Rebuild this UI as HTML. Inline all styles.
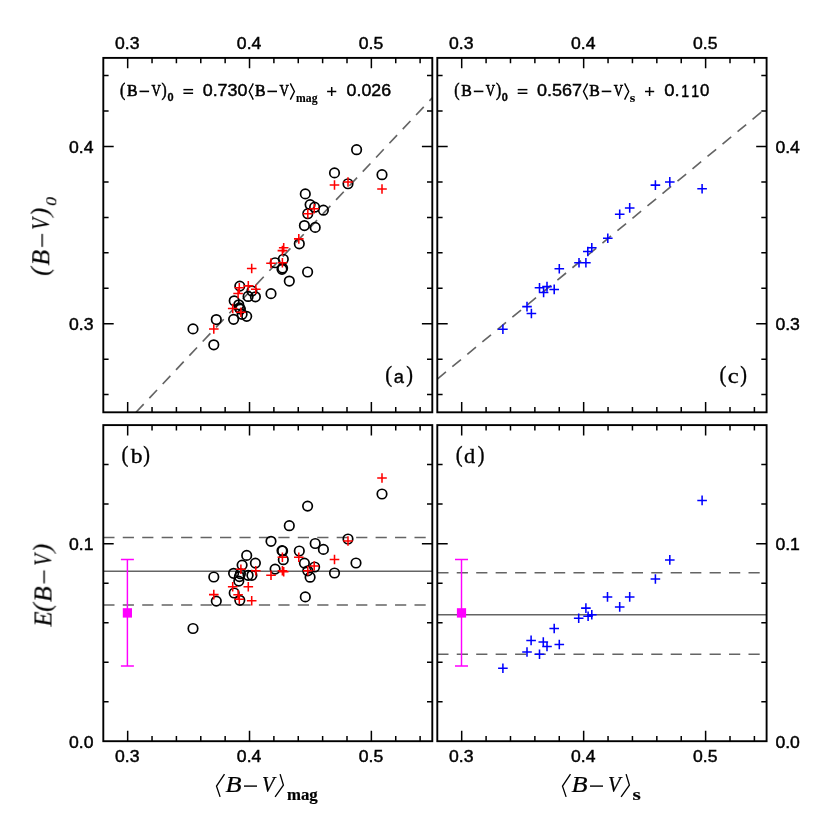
<!DOCTYPE html>
<html><head><meta charset="utf-8"><title>B-V relations</title>
<style>html,body{margin:0;padding:0;background:#fff}body{width:830px;height:830px;overflow:hidden}svg{display:block}text{fill:#000}.s{font-family:"Liberation Sans",sans-serif}.r{font-family:"Liberation Serif",serif}.i{font-family:"Liberation Serif",serif;font-style:italic}.b{font-family:"Liberation Serif",serif;font-weight:bold}.c circle{fill:none;stroke:#000;stroke-width:1.7}</style></head><body>
<svg width="830" height="830" viewBox="0 0 830 830">
<rect width="830" height="830" fill="#fff"/>
<clipPath id="c0"><rect x="103.3" y="57.9" width="329" height="354.4"/></clipPath>
<clipPath id="c1"><rect x="437.3" y="57.9" width="329.3" height="354.4"/></clipPath>
<clipPath id="c2"><rect x="103.3" y="425.1" width="329" height="316.1"/></clipPath>
<clipPath id="c3"><rect x="437.3" y="425.1" width="329.3" height="316.1"/></clipPath>
<line x1="136.02" y1="412.3" x2="432.3" y2="97.77" stroke="#646464" stroke-width="1.65" stroke-dasharray="11.2 8.25"/>
<g class="c">
<circle cx="213.8" cy="344.82" r="4.75"/>
<circle cx="216.3" cy="319.57" r="4.75"/>
<circle cx="233.6" cy="319.35" r="4.75"/>
<circle cx="234.2" cy="300.81" r="4.75"/>
<circle cx="239.8" cy="286.12" r="4.75"/>
<circle cx="238.8" cy="304.79" r="4.75"/>
<circle cx="239.4" cy="307.95" r="4.75"/>
<circle cx="240.4" cy="309.1" r="4.75"/>
<circle cx="242.1" cy="314.34" r="4.75"/>
<circle cx="246.7" cy="316.35" r="4.75"/>
<circle cx="248.1" cy="296.47" r="4.75"/>
<circle cx="251.9" cy="290.94" r="4.75"/>
<circle cx="255.4" cy="296.8" r="4.75"/>
<circle cx="271" cy="293.66" r="4.75"/>
<circle cx="275.1" cy="262.77" r="4.75"/>
<circle cx="282.6" cy="268.09" r="4.75"/>
<circle cx="282" cy="269.33" r="4.75"/>
<circle cx="283.3" cy="259.27" r="4.75"/>
<circle cx="289.3" cy="281.04" r="4.75"/>
<circle cx="299.3" cy="243.81" r="4.75"/>
<circle cx="304.4" cy="225.54" r="4.75"/>
<circle cx="307.6" cy="272.01" r="4.75"/>
<circle cx="307.8" cy="213.69" r="4.75"/>
<circle cx="310.1" cy="204.6" r="4.75"/>
<circle cx="305.3" cy="193.91" r="4.75"/>
<circle cx="314.6" cy="207.21" r="4.75"/>
<circle cx="315.2" cy="227.41" r="4.75"/>
<circle cx="323.4" cy="210.2" r="4.75"/>
<circle cx="334.5" cy="172.89" r="4.75"/>
<circle cx="348" cy="183.75" r="4.75"/>
<circle cx="356.6" cy="149.69" r="4.75"/>
<circle cx="382" cy="174.67" r="4.75"/>
<circle cx="193" cy="328.88" r="4.75"/>
</g>
<path d="M209 329.04h9.6M213.8 324.24v9.6M227.9 308.55h9.6M232.7 303.75v9.6M233.3 293.52h9.6M238.1 288.72v9.6M234.5 287.83h9.6M239.3 283.03v9.6M236.1 312.32h9.6M240.9 307.52v9.6M243.5 285.86h9.6M248.3 281.06v9.6M246.9 268.45h9.6M251.7 263.65v9.6M251 289.31h9.6M255.8 284.51v9.6M266.2 263.17h9.6M271 258.37v9.6M277.6 262.73h9.6M282.4 257.93v9.6M277.6 250.63h9.6M282.4 245.83v9.6M278.9 247.84h9.6M283.7 243.04v9.6M294 238.88h9.6M298.8 234.08v9.6M303 213.69h9.6M307.8 208.89v9.6M309.4 208.69h9.6M314.2 203.89v9.6M329.7 185h9.6M334.5 180.2v9.6M343.2 181.96h9.6M348 177.16v9.6M377.2 189.02h9.6M382 184.22v9.6" stroke="#ff0000" stroke-width="1.55" fill="none"/>
<line x1="437.3" y1="379.06" x2="766.6" y2="107.78" stroke="#646464" stroke-width="1.65" stroke-dasharray="11.2 8.25"/>
<path d="M498.1 329.2h9.6M502.9 324.4v9.6M522.2 306.6h9.6M527 301.8v9.6M526.6 313.5h9.6M531.4 308.7v9.6M534.7 287.8h9.6M539.5 283v9.6M538.8 292.5h9.6M543.6 287.7v9.6M542.2 286.6h9.6M547 281.8v9.6M549.4 289.4h9.6M554.2 284.6v9.6M554.5 268.7h9.6M559.3 263.9v9.6M574.2 262.7h9.6M579 257.9v9.6M581.1 262.7h9.6M585.9 257.9v9.6M583 251.5h9.6M587.8 246.7v9.6M587 247.7h9.6M591.8 242.9v9.6M603 238.3h9.6M607.8 233.5v9.6M614.9 214.2h9.6M619.7 209.4v9.6M624.9 207.9h9.6M629.7 203.1v9.6M650.6 185.1h9.6M655.4 180.3v9.6M665 181.9h9.6M669.8 177.1v9.6M697.3 188.8h9.6M702.1 184v9.6" stroke="#0000ff" stroke-width="1.55" fill="none"/>
<line x1="103.3" y1="537.5" x2="432.3" y2="537.5" stroke="#646464" stroke-width="1.65" stroke-dasharray="11.2 8.25"/>
<line x1="103.3" y1="571.2" x2="432.3" y2="571.2" stroke="#646464" stroke-width="1.4"/>
<line x1="103.3" y1="605" x2="432.3" y2="605" stroke="#646464" stroke-width="1.65" stroke-dasharray="11.2 8.25"/>
<g class="c">
<circle cx="213.8" cy="577" r="4.75"/>
<circle cx="216.3" cy="601.1" r="4.75"/>
<circle cx="233.6" cy="573.3" r="4.75"/>
<circle cx="234.2" cy="593" r="4.75"/>
<circle cx="239.8" cy="600.3" r="4.75"/>
<circle cx="238.8" cy="581.1" r="4.75"/>
<circle cx="239.4" cy="576.6" r="4.75"/>
<circle cx="240.4" cy="573.7" r="4.75"/>
<circle cx="242.1" cy="565.1" r="4.75"/>
<circle cx="246.7" cy="555.4" r="4.75"/>
<circle cx="248.1" cy="575.3" r="4.75"/>
<circle cx="251.9" cy="575.3" r="4.75"/>
<circle cx="255.4" cy="563.1" r="4.75"/>
<circle cx="271" cy="541.3" r="4.75"/>
<circle cx="275.1" cy="569.1" r="4.75"/>
<circle cx="282.6" cy="551" r="4.75"/>
<circle cx="282" cy="550.6" r="4.75"/>
<circle cx="283.3" cy="559.7" r="4.75"/>
<circle cx="289.3" cy="525.7" r="4.75"/>
<circle cx="299.3" cy="551" r="4.75"/>
<circle cx="304.4" cy="563.1" r="4.75"/>
<circle cx="307.6" cy="506.1" r="4.75"/>
<circle cx="307.8" cy="570.8" r="4.75"/>
<circle cx="310.1" cy="577.2" r="4.75"/>
<circle cx="305.3" cy="596.9" r="4.75"/>
<circle cx="314.6" cy="567" r="4.75"/>
<circle cx="315.2" cy="543.5" r="4.75"/>
<circle cx="323.4" cy="549.4" r="4.75"/>
<circle cx="334.5" cy="573" r="4.75"/>
<circle cx="348" cy="539" r="4.75"/>
<circle cx="356" cy="563" r="4.75"/>
<circle cx="382" cy="494" r="4.75"/>
<circle cx="193" cy="628.5" r="4.75"/>
</g>
<path d="M209 594.6h9.6M213.8 589.8v9.6M227.9 586.8h9.6M232.7 582v9.6M233.3 594.8h9.6M238.1 590v9.6M234.5 599.2h9.6M239.3 594.4v9.6M236.1 569.3h9.6M240.9 564.5v9.6M243.5 586.8h9.6M248.3 582v9.6M246.9 600.7h9.6M251.7 595.9v9.6M251 570.8h9.6M255.8 566v9.6M266.2 575.3h9.6M271 570.5v9.6M277.6 557.3h9.6M282.4 552.5v9.6M277.6 570.8h9.6M282.4 566v9.6M278.9 571.8h9.6M283.7 567v9.6M294 557.3h9.6M298.8 552.5v9.6M303 570.8h9.6M307.8 566v9.6M309.4 566h9.6M314.2 561.2v9.6M329.7 559.5h9.6M334.5 554.7v9.6M343.2 541h9.6M348 536.2v9.6M377.2 478h9.6M382 473.2v9.6" stroke="#ff0000" stroke-width="1.55" fill="none"/>
<path d="M127.4 559.5V666M120.9 559.5h13M120.9 666h13" stroke="#ff00ff" stroke-width="1.45" fill="none"/>
<rect x="122.8" y="608.2" width="9.2" height="9.4" fill="#ff00ff"/>
<line x1="437.3" y1="572.7" x2="766.6" y2="572.7" stroke="#646464" stroke-width="1.65" stroke-dasharray="11.2 8.25"/>
<line x1="437.3" y1="614.7" x2="766.6" y2="614.7" stroke="#646464" stroke-width="1.4"/>
<line x1="437.3" y1="654.2" x2="766.6" y2="654.2" stroke="#646464" stroke-width="1.65" stroke-dasharray="11.2 8.25"/>
<path d="M498.1 668.3h9.6M502.9 663.5v9.6M522.2 652h9.6M527 647.2v9.6M526.3 640.4h9.6M531.1 635.6v9.6M534.7 654.2h9.6M539.5 649.4v9.6M538.5 642h9.6M543.3 637.2v9.6M542.2 646.4h9.6M547 641.6v9.6M549.4 628.5h9.6M554.2 623.7v9.6M554.5 644.5h9.6M559.3 639.7v9.6M573.9 618.2h9.6M578.7 613.4v9.6M581.1 608.1h9.6M585.9 603.3v9.6M583.3 616.3h9.6M588.1 611.5v9.6M587 614.7h9.6M591.8 609.9v9.6M602.7 596.9h9.6M607.5 592.1v9.6M614.9 606.9h9.6M619.7 602.1v9.6M624.9 596.9h9.6M629.7 592.1v9.6M650.6 579h9.6M655.4 574.2v9.6M665 559.9h9.6M669.8 555.1v9.6M697.3 500.4h9.6M702.1 495.6v9.6" stroke="#0000ff" stroke-width="1.55" fill="none"/>
<path d="M461.5 559.5V666M455 559.5h13M455 666h13" stroke="#ff00ff" stroke-width="1.45" fill="none"/>
<rect x="456.9" y="608.2" width="9.2" height="9.4" fill="#ff00ff"/>
<rect x="103.3" y="57.9" width="329" height="354.4" fill="none" stroke="#000" stroke-width="1.9"/>
<path d="M127.67 57.9v10.4M127.67 412.3v-10.4M152.04 57.9v5.3M152.04 412.3v-5.3M176.41 57.9v5.3M176.41 412.3v-5.3M200.78 57.9v5.3M200.78 412.3v-5.3M225.15 57.9v5.3M225.15 412.3v-5.3M249.52 57.9v10.4M249.52 412.3v-10.4M273.89 57.9v5.3M273.89 412.3v-5.3M298.26 57.9v5.3M298.26 412.3v-5.3M322.63 57.9v5.3M322.63 412.3v-5.3M347 57.9v5.3M347 412.3v-5.3M371.37 57.9v10.4M371.37 412.3v-10.4M395.74 57.9v5.3M395.74 412.3v-5.3M420.11 57.9v5.3M420.11 412.3v-5.3" stroke="#000" stroke-width="1.5" fill="none"/>
<path d="M103.3 394.58h5.3M432.3 394.58h-5.3M103.3 359.14h5.3M432.3 359.14h-5.3M103.3 323.7h10.4M432.3 323.7h-10.4M103.3 288.26h5.3M432.3 288.26h-5.3M103.3 252.82h5.3M432.3 252.82h-5.3M103.3 217.38h5.3M432.3 217.38h-5.3M103.3 181.94h5.3M432.3 181.94h-5.3M103.3 146.5h10.4M432.3 146.5h-10.4M103.3 111.06h5.3M432.3 111.06h-5.3M103.3 75.62h5.3M432.3 75.62h-5.3" stroke="#000" stroke-width="1.5" fill="none"/>
<rect x="437.3" y="57.9" width="329.3" height="354.4" fill="none" stroke="#000" stroke-width="1.9"/>
<path d="M461.69 57.9v10.4M461.69 412.3v-10.4M486.09 57.9v5.3M486.09 412.3v-5.3M510.48 57.9v5.3M510.48 412.3v-5.3M534.87 57.9v5.3M534.87 412.3v-5.3M559.26 57.9v5.3M559.26 412.3v-5.3M583.66 57.9v10.4M583.66 412.3v-10.4M608.05 57.9v5.3M608.05 412.3v-5.3M632.44 57.9v5.3M632.44 412.3v-5.3M656.83 57.9v5.3M656.83 412.3v-5.3M681.23 57.9v5.3M681.23 412.3v-5.3M705.62 57.9v10.4M705.62 412.3v-10.4M730.01 57.9v5.3M730.01 412.3v-5.3M754.4 57.9v5.3M754.4 412.3v-5.3" stroke="#000" stroke-width="1.5" fill="none"/>
<path d="M437.3 394.58h5.3M766.6 394.58h-5.3M437.3 359.14h5.3M766.6 359.14h-5.3M437.3 323.7h10.4M766.6 323.7h-10.4M437.3 288.26h5.3M766.6 288.26h-5.3M437.3 252.82h5.3M766.6 252.82h-5.3M437.3 217.38h5.3M766.6 217.38h-5.3M437.3 181.94h5.3M766.6 181.94h-5.3M437.3 146.5h10.4M766.6 146.5h-10.4M437.3 111.06h5.3M766.6 111.06h-5.3M437.3 75.62h5.3M766.6 75.62h-5.3" stroke="#000" stroke-width="1.5" fill="none"/>
<rect x="103.3" y="425.1" width="329" height="316.1" fill="none" stroke="#000" stroke-width="1.9"/>
<path d="M127.67 425.1v10.4M127.67 741.2v-10.4M152.04 425.1v5.3M152.04 741.2v-5.3M176.41 425.1v5.3M176.41 741.2v-5.3M200.78 425.1v5.3M200.78 741.2v-5.3M225.15 425.1v5.3M225.15 741.2v-5.3M249.52 425.1v10.4M249.52 741.2v-10.4M273.89 425.1v5.3M273.89 741.2v-5.3M298.26 425.1v5.3M298.26 741.2v-5.3M322.63 425.1v5.3M322.63 741.2v-5.3M347 425.1v5.3M347 741.2v-5.3M371.37 425.1v10.4M371.37 741.2v-10.4M395.74 425.1v5.3M395.74 741.2v-5.3M420.11 425.1v5.3M420.11 741.2v-5.3" stroke="#000" stroke-width="1.5" fill="none"/>
<path d="M103.3 701.69h5.3M432.3 701.69h-5.3M103.3 662.18h5.3M432.3 662.18h-5.3M103.3 622.66h5.3M432.3 622.66h-5.3M103.3 583.15h5.3M432.3 583.15h-5.3M103.3 543.64h10.4M432.3 543.64h-10.4M103.3 504.12h5.3M432.3 504.12h-5.3M103.3 464.61h5.3M432.3 464.61h-5.3" stroke="#000" stroke-width="1.5" fill="none"/>
<rect x="437.3" y="425.1" width="329.3" height="316.1" fill="none" stroke="#000" stroke-width="1.9"/>
<path d="M461.69 425.1v10.4M461.69 741.2v-10.4M486.09 425.1v5.3M486.09 741.2v-5.3M510.48 425.1v5.3M510.48 741.2v-5.3M534.87 425.1v5.3M534.87 741.2v-5.3M559.26 425.1v5.3M559.26 741.2v-5.3M583.66 425.1v10.4M583.66 741.2v-10.4M608.05 425.1v5.3M608.05 741.2v-5.3M632.44 425.1v5.3M632.44 741.2v-5.3M656.83 425.1v5.3M656.83 741.2v-5.3M681.23 425.1v5.3M681.23 741.2v-5.3M705.62 425.1v10.4M705.62 741.2v-10.4M730.01 425.1v5.3M730.01 741.2v-5.3M754.4 425.1v5.3M754.4 741.2v-5.3" stroke="#000" stroke-width="1.5" fill="none"/>
<path d="M437.3 701.69h5.3M766.6 701.69h-5.3M437.3 662.18h5.3M766.6 662.18h-5.3M437.3 622.66h5.3M766.6 622.66h-5.3M437.3 583.15h5.3M766.6 583.15h-5.3M437.3 543.64h10.4M766.6 543.64h-10.4M437.3 504.12h5.3M766.6 504.12h-5.3M437.3 464.61h5.3M766.6 464.61h-5.3" stroke="#000" stroke-width="1.5" fill="none"/>
<g style="isolation:isolate;opacity:0.999">
<text transform="translate(115.02 48.9) scale(1.0750 1.0000)" font-family="Liberation Sans" font-size="16.4" stroke="#000" stroke-width="0.45">0.3</text>
<text transform="translate(115.02 761.9) scale(1.0750 1.0000)" font-family="Liberation Sans" font-size="16.4" stroke="#000" stroke-width="0.45">0.3</text>
<text transform="translate(236.87 48.9) scale(1.0750 1.0000)" font-family="Liberation Sans" font-size="16.4" stroke="#000" stroke-width="0.45">0.4</text>
<text transform="translate(236.87 761.9) scale(1.0750 1.0000)" font-family="Liberation Sans" font-size="16.4" stroke="#000" stroke-width="0.45">0.4</text>
<text transform="translate(358.72 48.9) scale(1.0750 1.0000)" font-family="Liberation Sans" font-size="16.4" stroke="#000" stroke-width="0.45">0.5</text>
<text transform="translate(358.72 761.9) scale(1.0750 1.0000)" font-family="Liberation Sans" font-size="16.4" stroke="#000" stroke-width="0.45">0.5</text>
<text transform="translate(449.04 48.9) scale(1.0750 1.0000)" font-family="Liberation Sans" font-size="16.4" stroke="#000" stroke-width="0.45">0.3</text>
<text transform="translate(449.04 761.9) scale(1.0750 1.0000)" font-family="Liberation Sans" font-size="16.4" stroke="#000" stroke-width="0.45">0.3</text>
<text transform="translate(571 48.9) scale(1.0750 1.0000)" font-family="Liberation Sans" font-size="16.4" stroke="#000" stroke-width="0.45">0.4</text>
<text transform="translate(571 761.9) scale(1.0750 1.0000)" font-family="Liberation Sans" font-size="16.4" stroke="#000" stroke-width="0.45">0.4</text>
<text transform="translate(692.96 48.9) scale(1.0750 1.0000)" font-family="Liberation Sans" font-size="16.4" stroke="#000" stroke-width="0.45">0.5</text>
<text transform="translate(692.96 761.9) scale(1.0750 1.0000)" font-family="Liberation Sans" font-size="16.4" stroke="#000" stroke-width="0.45">0.5</text>
<text transform="translate(68.95 330) scale(1.0750 1.0000)" font-family="Liberation Sans" font-size="16.4" stroke="#000" stroke-width="0.45">0.3</text>
<text transform="translate(775.38 330) scale(1.0750 1.0000)" font-family="Liberation Sans" font-size="16.4" stroke="#000" stroke-width="0.45">0.3</text>
<text transform="translate(68.95 152.8) scale(1.0750 1.0000)" font-family="Liberation Sans" font-size="16.4" stroke="#000" stroke-width="0.45">0.4</text>
<text transform="translate(775.38 152.8) scale(1.0750 1.0000)" font-family="Liberation Sans" font-size="16.4" stroke="#000" stroke-width="0.45">0.4</text>
<text transform="translate(68.95 747.5) scale(1.0750 1.0000)" font-family="Liberation Sans" font-size="16.4" stroke="#000" stroke-width="0.45">0.0</text>
<text transform="translate(775.38 747.5) scale(1.0750 1.0000)" font-family="Liberation Sans" font-size="16.4" stroke="#000" stroke-width="0.45">0.0</text>
<text transform="translate(68.95 549.94) scale(1.0750 1.0000)" font-family="Liberation Sans" font-size="16.4" stroke="#000" stroke-width="0.45">0.1</text>
<text transform="translate(775.38 549.94) scale(1.0750 1.0000)" font-family="Liberation Sans" font-size="16.4" stroke="#000" stroke-width="0.45">0.1</text>
<text transform="translate(385.15 381.84) scale(0.9110 0.9846)" font-family="Liberation Serif" font-size="22.6" stroke="#000" stroke-width="0.35">(</text>
<text transform="translate(406.27 381.84) scale(0.8935 0.9846)" font-family="Liberation Serif" font-size="22.6" stroke="#000" stroke-width="0.35">)</text>
<text transform="translate(393.64 382.8) scale(0.9658 1.0000)" font-family="Liberation Sans" font-size="19.0" stroke="#000" stroke-width="0.35">a</text>
<text transform="translate(719.55 381.84) scale(0.9110 0.9846)" font-family="Liberation Serif" font-size="22.6" stroke="#000" stroke-width="0.35">(</text>
<text transform="translate(740.37 381.84) scale(0.8935 0.9846)" font-family="Liberation Serif" font-size="22.6" stroke="#000" stroke-width="0.35">)</text>
<text transform="translate(727.69 382.8) scale(1.1212 1.0000)" font-family="Liberation Serif" font-size="22.0" stroke="#000" stroke-width="0.35">c</text>
<text transform="translate(121.55 461.84) scale(0.9110 0.9846)" font-family="Liberation Serif" font-size="22.6" stroke="#000" stroke-width="0.35">(</text>
<text transform="translate(143.37 461.84) scale(0.8935 0.9846)" font-family="Liberation Serif" font-size="22.6" stroke="#000" stroke-width="0.35">)</text>
<text transform="translate(130.78 462.8) scale(1.0721 1.0000)" font-family="Liberation Serif" font-size="22.0" stroke="#000" stroke-width="0.35">b</text>
<text transform="translate(455.65 461.84) scale(0.9110 0.9846)" font-family="Liberation Serif" font-size="22.6" stroke="#000" stroke-width="0.35">(</text>
<text transform="translate(477.67 461.84) scale(0.8935 0.9846)" font-family="Liberation Serif" font-size="22.6" stroke="#000" stroke-width="0.35">)</text>
<text transform="translate(463.89 462.8) scale(1.0140 1.0000)" font-family="Liberation Serif" font-size="22.0" stroke="#000" stroke-width="0.35">d</text>
<text transform="translate(120.06 95.76) scale(0.8359 0.9456)" font-family="Liberation Serif" font-size="19.0" stroke="#000" stroke-width="0.55">(</text>
<text transform="translate(127.05 96.4) scale(0.8804 0.9818)" font-family="Liberation Serif" font-size="18.0" stroke="#000" stroke-width="0.65">B</text>
<path d="M139.5 91.4H149.1" stroke="#000" stroke-width="1.6" fill="none"/>
<text transform="translate(151.5 96.4) scale(0.7183 0.9818)" font-family="Liberation Serif" font-size="18.0" stroke="#000" stroke-width="0.65">V</text>
<text transform="translate(161.61 95.76) scale(0.8198 0.9456)" font-family="Liberation Serif" font-size="19.0" stroke="#000" stroke-width="0.55">)</text>
<text transform="translate(167.41 101.35) scale(1.0947 1.0282)" font-family="Liberation Sans" font-weight="bold" font-size="10.0" stroke="#000" stroke-width="0.3">0</text>
<path d="M183.4 89.65H193.1" stroke="#000" stroke-width="1.5" fill="none"/>
<path d="M183.4 93.25H193.1" stroke="#000" stroke-width="1.5" fill="none"/>
<text transform="translate(202.71 96.36) scale(1.0454 0.9719)" font-family="Liberation Sans" font-size="17.1" stroke="#000" stroke-width="0.45">0.730</text>
<path d="M253.3 83.4L249.2 91.5L253.3 99.6" stroke="#000" stroke-width="1.4" fill="none"/>
<text transform="translate(254.95 96.4) scale(0.8804 0.9818)" font-family="Liberation Serif" font-size="18.0" stroke="#000" stroke-width="0.65">B</text>
<path d="M267.4 91.4H277" stroke="#000" stroke-width="1.6" fill="none"/>
<text transform="translate(279.4 96.4) scale(0.7183 0.9818)" font-family="Liberation Serif" font-size="18.0" stroke="#000" stroke-width="0.65">V</text>
<path d="M290.3 83.4L294.4 91.5L290.3 99.6" stroke="#000" stroke-width="1.4" fill="none"/>
<text transform="translate(296.08 101.5) scale(0.9508 1.0000)" font-family="Liberation Serif" font-weight="bold" font-size="12.3" stroke="#000" stroke-width="0.15">mag</text>
<path d="M327.1 91.5h9.2M331.7 86.9v9.2" stroke="#000" stroke-width="1.5" fill="none"/>
<text transform="translate(346.61 96.36) scale(1.0403 0.9719)" font-family="Liberation Sans" font-size="17.1" stroke="#000" stroke-width="0.45">0.026</text>
<text transform="translate(454.36 95.76) scale(0.8359 0.9456)" font-family="Liberation Serif" font-size="19.0" stroke="#000" stroke-width="0.55">(</text>
<text transform="translate(461.35 96.4) scale(0.8804 0.9818)" font-family="Liberation Serif" font-size="18.0" stroke="#000" stroke-width="0.65">B</text>
<path d="M473.8 91.4H483.4" stroke="#000" stroke-width="1.6" fill="none"/>
<text transform="translate(485.8 96.4) scale(0.7183 0.9818)" font-family="Liberation Serif" font-size="18.0" stroke="#000" stroke-width="0.65">V</text>
<text transform="translate(495.91 95.76) scale(0.8198 0.9456)" font-family="Liberation Serif" font-size="19.0" stroke="#000" stroke-width="0.55">)</text>
<text transform="translate(501.71 101.35) scale(1.0947 1.0282)" font-family="Liberation Sans" font-weight="bold" font-size="10.0" stroke="#000" stroke-width="0.3">0</text>
<path d="M517.7 89.65H527.4" stroke="#000" stroke-width="1.5" fill="none"/>
<path d="M517.7 93.25H527.4" stroke="#000" stroke-width="1.5" fill="none"/>
<text transform="translate(537.01 96.36) scale(1.0519 0.9719)" font-family="Liberation Sans" font-size="17.1" stroke="#000" stroke-width="0.45">0.567</text>
<path d="M587.6 83.4L583.5 91.5L587.6 99.6" stroke="#000" stroke-width="1.4" fill="none"/>
<text transform="translate(589.25 96.4) scale(0.8804 0.9818)" font-family="Liberation Serif" font-size="18.0" stroke="#000" stroke-width="0.65">B</text>
<path d="M601.7 91.4H611.3" stroke="#000" stroke-width="1.6" fill="none"/>
<text transform="translate(613.7 96.4) scale(0.7183 0.9818)" font-family="Liberation Serif" font-size="18.0" stroke="#000" stroke-width="0.65">V</text>
<path d="M624.6 83.4L628.7 91.5L624.6 99.6" stroke="#000" stroke-width="1.4" fill="none"/>
<text transform="translate(629.85 101.5) scale(1.1528 1.0000)" font-family="Liberation Serif" font-weight="bold" font-size="12.3" stroke="#000" stroke-width="0.15">s</text>
<path d="M645 91.5h9.2M649.6 86.9v9.2" stroke="#000" stroke-width="1.5" fill="none"/>
<text transform="translate(664.28 96.36) scale(1.0819 0.9719)" font-family="Liberation Sans" font-size="17.1" stroke="#000" stroke-width="0.45">0.</text>
<text transform="translate(681.16 96.53) scale(0.8268 1.0001)" font-family="Liberation Sans" font-size="17.1" stroke="#000" stroke-width="0.45">1</text>
<text transform="translate(691.26 96.53) scale(0.8268 1.0001)" font-family="Liberation Sans" font-size="17.1" stroke="#000" stroke-width="0.45">1</text>
<text transform="translate(700.05 96.36) scale(0.9808 0.9719)" font-family="Liberation Sans" font-size="17.1" stroke="#000" stroke-width="0.45">0</text>
<path d="M224.5 774.1L216.5 786.1L220.1 796.9M280.1 774.1L283.4 785.1L275.1 796.9" stroke="#000" stroke-width="1.35" fill="none" stroke-linejoin="miter"/>
<text transform="translate(225.46 792) scale(1.0955 0.9653)" font-family="Liberation Serif" font-style="italic" font-size="24.0" stroke="#000" stroke-width="0.25">B</text>
<path d="M244 786.1H257" stroke="#000" stroke-width="1.4" fill="none"/>
<text transform="translate(261.9 792) scale(0.8556 0.9653)" font-family="Liberation Serif" font-style="italic" font-size="24.0" stroke="#000" stroke-width="0.25">V</text>
<text transform="translate(286.98 799.5) scale(1.0357 1.0000)" font-family="Liberation Serif" font-weight="bold" font-size="16.2" stroke="#000" stroke-width="0.2">mag</text>
<path d="M570.5 774.1L562.5 786.1L566.1 796.9M626.1 774.1L629.4 785.1L621.1 796.9" stroke="#000" stroke-width="1.35" fill="none" stroke-linejoin="miter"/>
<text transform="translate(571.46 792) scale(1.0955 0.9653)" font-family="Liberation Serif" font-style="italic" font-size="24.0" stroke="#000" stroke-width="0.25">B</text>
<path d="M590 786.1H603" stroke="#000" stroke-width="1.4" fill="none"/>
<text transform="translate(607.9 792) scale(0.8556 0.9653)" font-family="Liberation Serif" font-style="italic" font-size="24.0" stroke="#000" stroke-width="0.25">V</text>
<text transform="translate(632.56 799.5) scale(1.3083 1.0000)" font-family="Liberation Serif" font-weight="bold" font-size="16.2" stroke="#000" stroke-width="0.2">s</text>
<g transform="translate(49.3 275.1) rotate(-90)">
<text transform="translate(-0.8 -0.8) scale(1.0286 1.0418)" font-family="Liberation Serif" font-style="italic" font-size="25.0" stroke="#000" stroke-width="0.2">(</text>
<text transform="translate(9.54 0) scale(1.0345 0.9893)" font-family="Liberation Serif" font-style="italic" font-size="25.0" stroke="#000" stroke-width="0.2">B</text>
<path d="M28.2 -7.1H41.2" stroke="#000" stroke-width="1.4" fill="none"/>
<text transform="translate(45.22 0) scale(0.7817 0.9893)" font-family="Liberation Serif" font-style="italic" font-size="25.0" stroke="#000" stroke-width="0.2">V</text>
<text transform="translate(58.76 -0.8) scale(1.0286 1.0418)" font-family="Liberation Serif" font-style="italic" font-size="25.0" stroke="#000" stroke-width="0.2">)</text>
<text transform="translate(69.29 6.75) scale(1.1111 0.9352)" font-family="Liberation Serif" font-style="italic" font-size="16.0" stroke="#000" stroke-width="0.2">0</text>
</g>
<g transform="translate(51.5 626.8) rotate(-90)">
<text transform="translate(0.35 0) scale(0.9917 1.0260)" font-family="Liberation Serif" font-style="italic" font-size="25.0" stroke="#000" stroke-width="0.2">E</text>
<text transform="translate(15 -1.4) scale(1.0286 1.0418)" font-family="Liberation Serif" font-style="italic" font-size="25.0" stroke="#000" stroke-width="0.2">(</text>
<text transform="translate(24.84 0) scale(1.0345 1.0260)" font-family="Liberation Serif" font-style="italic" font-size="25.0" stroke="#000" stroke-width="0.2">B</text>
<path d="M43.4 -7.4H56.4" stroke="#000" stroke-width="1.4" fill="none"/>
<text transform="translate(61.02 0) scale(0.7817 1.0260)" font-family="Liberation Serif" font-style="italic" font-size="25.0" stroke="#000" stroke-width="0.2">V</text>
<text transform="translate(74.56 -1.4) scale(1.0286 1.0418)" font-family="Liberation Serif" font-style="italic" font-size="25.0" stroke="#000" stroke-width="0.2">)</text>
</g>
</g>
</svg></body></html>
